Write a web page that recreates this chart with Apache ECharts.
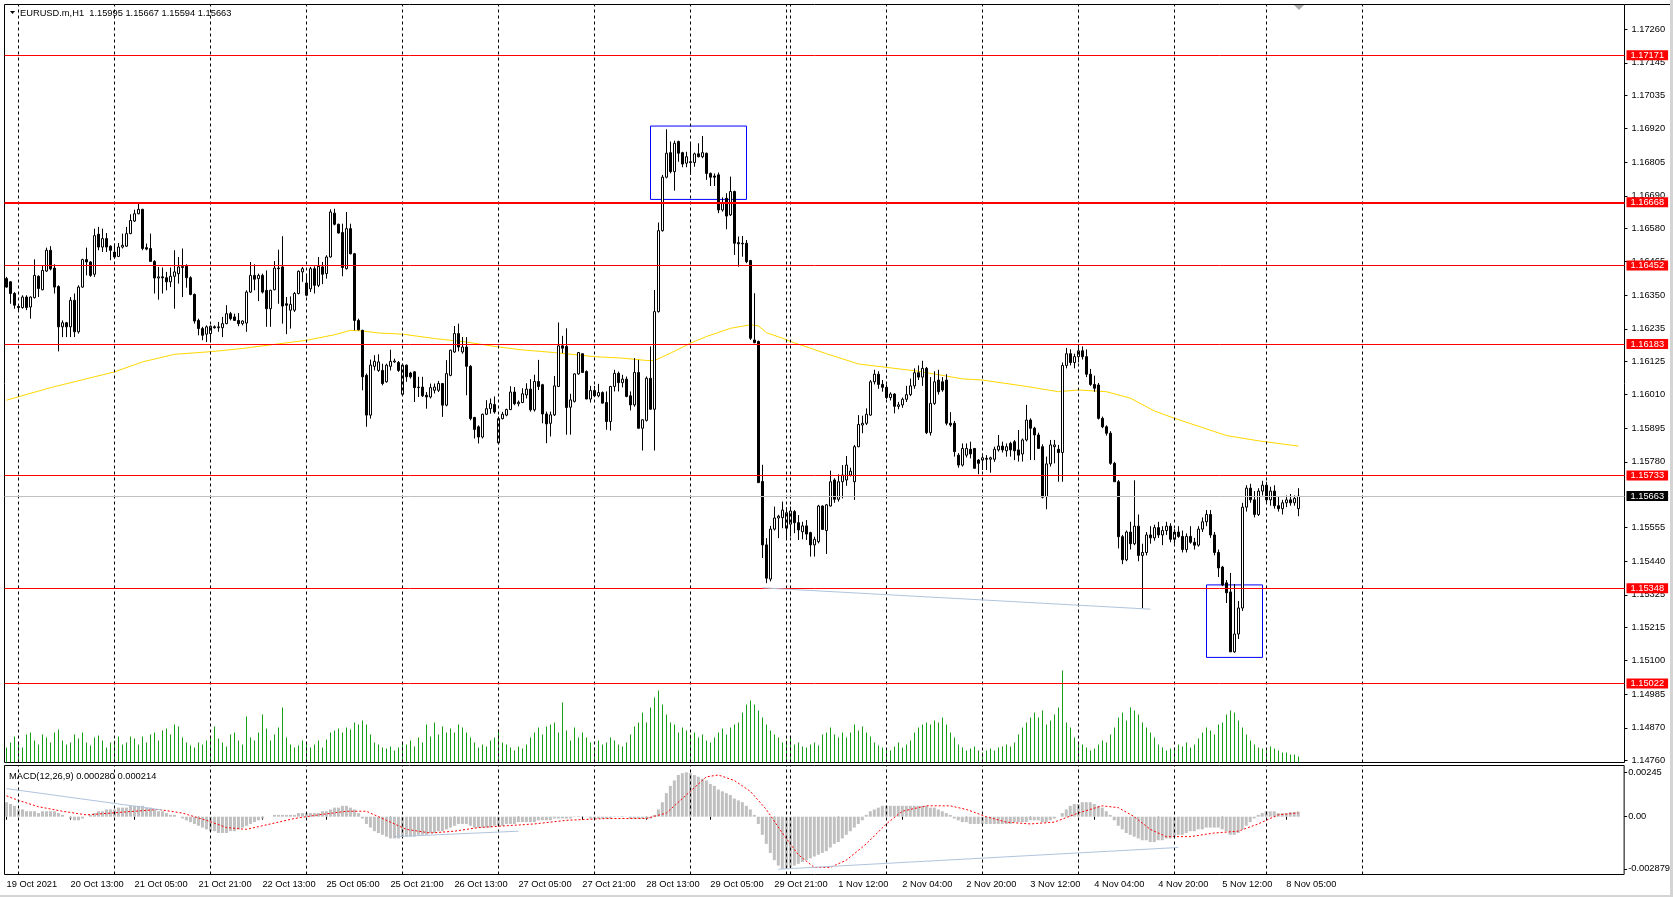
<!DOCTYPE html>
<html><head><meta charset="utf-8">
<script src="https://cdn.jsdelivr.net/npm/echarts@6/dist/echarts.min.js"></script>
<style>html,body{margin:0;padding:0;background:#fff;}#c{width:1673px;height:897px;}</style>
</head><body><div id="c"></div>
<script>
// ---------------- DATA ----------------
const timeLabels = ["19 Oct 2021","20 Oct 13:00","21 Oct 05:00","21 Oct 21:00","22 Oct 13:00","25 Oct 05:00","25 Oct 21:00","26 Oct 13:00","27 Oct 05:00","27 Oct 21:00","28 Oct 13:00","29 Oct 05:00","29 Oct 21:00","1 Nov 12:00","2 Nov 04:00","2 Nov 20:00","3 Nov 12:00","4 Nov 04:00","4 Nov 20:00","5 Nov 12:00","8 Nov 05:00"];
const priceTickLabels = ["1.17260","1.17145","1.17035","1.16920","1.16805","1.16690","1.16580","1.16465","1.16350","1.16235","1.16125","1.16010","1.15895","1.15780","1.15555","1.15440","1.15325","1.15215","1.15100","1.14985","1.14870","1.14760"];
const macdTickLabels = ["0.00245","0.00","-0.002879"];
const macdTickValues = [0.00245, 0, -0.002879];
const levels = [1.17171,1.16668,1.16452,1.16183,1.15733,1.15348,1.15022];
const currentPrice = 1.15663;

const openP = [
1.16407,1.16396,1.16356,1.16312,1.16308,1.16344,1.16310,1.16342,1.16415,1.16369,
1.16433,1.16504,1.16443,1.16380,1.16242,1.16256,1.16242,1.16333,1.16225,1.16378,
1.16472,1.16464,1.16422,1.16559,1.16515,1.16544,1.16518,1.16498,1.16483,1.16515,
1.16518,1.16561,1.16604,1.16629,1.16644,1.16513,1.16510,1.16466,1.16409,1.16413,
1.16410,1.16396,1.16415,1.16424,1.16445,1.16449,1.16410,1.16353,1.16264,1.16236,
1.16217,1.16219,1.16242,1.16239,1.16239,1.16253,1.16287,1.16276,1.16264,1.16253,
1.16255,1.16361,1.16418,1.16407,1.16418,1.16367,1.16304,1.16369,1.16443,1.16447,
1.16321,1.16299,1.16299,1.16356,1.16430,1.16392,1.16372,1.16441,1.16384,1.16447,
1.16424,1.16481,1.16631,1.16593,1.16565,1.16441,1.16578,1.16492,1.16264,1.16230,
1.16076,1.15940,1.16107,1.16093,1.16093,1.16054,1.16107,1.16122,1.16120,1.16011,
1.16111,1.16084,1.16088,1.16034,1.16036,1.16008,1.16002,1.16025,1.16025,1.16048,
1.15974,1.16076,1.16156,1.16219,1.16156,1.16173,1.16107,1.15932,1.15900,1.15865,
1.15943,1.15962,1.15976,1.15845,1.15928,1.15940,1.15959,1.16019,1.15979,1.15983,
1.16009,1.16029,1.15958,1.16055,1.16044,1.15944,1.15912,1.15941,1.16038,1.16177,
1.16175,1.15967,1.15987,1.16081,1.16150,1.16089,1.15995,1.16024,1.16006,1.16017,
1.15983,1.15918,1.16038,1.16083,1.16051,1.16063,1.16006,1.15975,1.16086,1.15895,
1.15922,1.16066,1.15960,1.16294,1.16571,1.16754,1.16838,1.16773,1.16876,1.16838,
1.16802,1.16807,1.16804,1.16834,1.16824,1.16836,1.16767,1.16758,1.16762,1.16642,
1.16682,1.16625,1.16705,1.16530,1.16528,1.16528,1.16469,1.16197,1.16192,1.15713,
1.15496,1.15379,1.15550,1.15588,1.15589,1.15553,1.15567,1.15610,1.15572,1.15541,
1.15561,1.15538,1.15496,1.15507,1.15629,1.15545,1.15629,1.15718,1.15652,1.15712,
1.15718,1.15735,1.15712,1.15832,1.15906,1.15912,1.15940,1.16054,1.16080,1.16045,
1.16035,1.16000,1.16012,1.15970,1.15975,1.15994,1.16010,1.16040,1.16085,1.16070,
1.16100,1.15880,1.15980,1.16060,1.16054,1.16060,1.15912,1.15912,1.15803,1.15769,
1.15803,1.15823,1.15826,1.15786,1.15786,1.15792,1.15789,1.15789,1.15821,1.15834,
1.15818,1.15843,1.15849,1.15821,1.15807,1.15855,1.15923,1.15895,1.15872,1.15832,
1.15661,1.15773,1.15832,1.15823,1.15812,1.16110,1.16150,1.16120,1.16140,1.16160,
1.16140,1.16080,1.16045,1.16043,1.15929,1.15900,1.15878,1.15775,1.15712,1.15524,
1.15445,1.15540,1.15500,1.15560,1.15460,1.15470,1.15530,1.15520,1.15555,1.15530,
1.15545,1.15560,1.15515,1.15540,1.15525,1.15480,1.15525,1.15505,1.15495,1.15550,
1.15575,1.15600,1.15530,1.15470,1.15420,1.15366,1.15335,1.15130,1.15191,1.15280,
1.15625,1.15690,1.15650,1.15600,1.15680,1.15700,1.15650,1.15680,1.15630,1.15620,
1.15640,1.15650,1.15640,1.15620];

const highP = [
1.16413,1.16399,1.16361,1.16316,1.16350,1.16350,1.16346,1.16473,1.16418,1.16453,
1.16513,1.16518,1.16456,1.16384,1.16264,1.16259,1.16344,1.16356,1.16384,1.16475,
1.16513,1.16467,1.16578,1.16584,1.16578,1.16563,1.16521,1.16527,1.16529,1.16561,
1.16584,1.16627,1.16643,1.16663,1.16646,1.16527,1.16561,1.16470,1.16447,1.16445,
1.16430,1.16445,1.16504,1.16481,1.16510,1.16456,1.16415,1.16356,1.16270,1.16242,
1.16247,1.16247,1.16247,1.16259,1.16276,1.16316,1.16293,1.16287,1.16289,1.16264,
1.16367,1.16464,1.16456,1.16424,1.16424,1.16435,1.16369,1.16467,1.16506,1.16552,
1.16344,1.16346,1.16361,1.16435,1.16447,1.16418,1.16447,1.16449,1.16481,1.16464,
1.16487,1.16644,1.16646,1.16595,1.16595,1.16635,1.16595,1.16495,1.16270,1.16232,
1.16082,1.16130,1.16145,1.16148,1.16116,1.16116,1.16164,1.16133,1.16125,1.16116,
1.16113,1.16088,1.16091,1.16071,1.16071,1.16019,1.16048,1.16048,1.16057,1.16050,
1.16128,1.16164,1.16245,1.16253,1.16207,1.16207,1.16111,1.15934,1.15905,1.15945,
1.15991,1.15997,1.16004,1.15935,1.15951,1.15962,1.16039,1.16036,1.15990,1.16032,
1.16049,1.16063,1.16078,1.16129,1.16047,1.15952,1.15952,1.16074,1.16257,1.16211,
1.16237,1.16013,1.16083,1.16156,1.16152,1.16093,1.16040,1.16040,1.16047,1.16021,
1.16021,1.16040,1.16095,1.16089,1.16078,1.16072,1.16021,1.16135,1.16129,1.15926,
1.16072,1.16175,1.16368,1.16599,1.16762,1.16918,1.16876,1.16879,1.16879,1.16841,
1.16841,1.16870,1.16838,1.16870,1.16895,1.16838,1.16770,1.16767,1.16770,1.16685,
1.16699,1.16756,1.16708,1.16551,1.16553,1.16539,1.16471,1.16357,1.16195,1.15770,
1.15519,1.15561,1.15627,1.15599,1.15644,1.15625,1.15627,1.15615,1.15598,1.15575,
1.15581,1.15541,1.15524,1.15633,1.15631,1.15636,1.15750,1.15724,1.15737,1.15769,
1.15800,1.15760,1.15838,1.15940,1.15938,1.15963,1.16060,1.16095,1.16090,1.16060,
1.16045,1.16018,1.16015,1.15985,1.16000,1.16040,1.16065,1.16100,1.16110,1.16126,
1.16105,1.16070,1.16090,1.16095,1.16070,1.16080,1.15950,1.15920,1.15810,1.15843,
1.15843,1.15849,1.15826,1.15790,1.15809,1.15803,1.15798,1.15832,1.15872,1.15849,
1.15843,1.15849,1.15855,1.15889,1.15860,1.15975,1.15929,1.15900,1.15880,1.15840,
1.15798,1.15855,1.15855,1.15838,1.16120,1.16170,1.16165,1.16150,1.16180,1.16175,
1.16165,1.16098,1.16075,1.16050,1.15935,1.15905,1.15885,1.15780,1.15718,1.15530,
1.15545,1.15575,1.15717,1.15600,1.15500,1.15540,1.15560,1.15565,1.15575,1.15560,
1.15575,1.15570,1.15550,1.15560,1.15545,1.15535,1.15560,1.15520,1.15560,1.15590,
1.15615,1.15615,1.15540,1.15480,1.15424,1.15376,1.15400,1.15362,1.15304,1.15640,
1.15700,1.15705,1.15680,1.15690,1.15715,1.15712,1.15695,1.15700,1.15660,1.15650,
1.15665,1.15670,1.15665,1.15690];

const lowP = [
1.16376,1.16321,1.16304,1.16299,1.16304,1.16299,1.16270,1.16339,1.16344,1.16367,
1.16430,1.16435,1.16356,1.16158,1.16207,1.16207,1.16207,1.16207,1.16219,1.16376,
1.16418,1.16413,1.16413,1.16504,1.16498,1.16498,1.16470,1.16475,1.16481,1.16510,
1.16515,1.16559,1.16601,1.16627,1.16504,1.16504,1.16466,1.16356,1.16335,1.16356,
1.16367,1.16378,1.16304,1.16390,1.16344,1.16376,1.16350,1.16253,1.16213,1.16196,
1.16190,1.16190,1.16236,1.16225,1.16207,1.16251,1.16264,1.16262,1.16244,1.16247,
1.16225,1.16358,1.16367,1.16330,1.16356,1.16242,1.16242,1.16367,1.16321,1.16253,
1.16217,1.16236,1.16293,1.16353,1.16396,1.16346,1.16361,1.16356,1.16378,1.16388,
1.16407,1.16479,1.16589,1.16561,1.16415,1.16438,1.16490,1.16230,1.16230,1.16025,
1.15900,1.15928,1.16093,1.16088,1.16042,1.16051,1.16093,1.16119,1.16088,1.16008,
1.16054,1.16065,1.15985,1.16002,1.16002,1.15962,1.15997,1.16014,1.16019,1.15934,
1.15970,1.16073,1.16153,1.16158,1.16150,1.16008,1.15922,1.15860,1.15843,1.15860,
1.15940,1.15945,1.15945,1.15840,1.15925,1.15936,1.15957,1.15974,1.15970,1.15981,
1.15997,1.15952,1.15952,1.16026,1.15912,1.15844,1.15867,1.15937,1.16036,1.16152,
1.15873,1.15873,1.15983,1.16078,1.16086,1.15995,1.15983,1.16001,1.16001,1.15981,
1.15890,1.15887,1.16021,1.16021,1.16035,1.16001,1.15956,1.15969,1.15895,1.15819,
1.15918,1.15960,1.15819,1.16291,1.16568,1.16750,1.16767,1.16708,1.16807,1.16788,
1.16788,1.16762,1.16790,1.16822,1.16819,1.16745,1.16724,1.16724,1.16631,1.16636,
1.16576,1.16621,1.16488,1.16448,1.16482,1.16460,1.16197,1.16186,1.15709,1.15451,
1.15365,1.15371,1.15545,1.15519,1.15553,1.15515,1.15524,1.15536,1.15513,1.15515,
1.15513,1.15456,1.15456,1.15501,1.15547,1.15465,1.15627,1.15640,1.15644,1.15655,
1.15698,1.15730,1.15650,1.15830,1.15878,1.15906,1.15938,1.16045,1.16030,1.16020,
1.15995,1.15990,1.15946,1.15960,1.15965,1.15985,1.16005,1.16030,1.16060,1.16040,
1.15875,1.15870,1.15975,1.16010,1.16020,1.15905,1.15900,1.15798,1.15760,1.15764,
1.15795,1.15792,1.15758,1.15738,1.15752,1.15752,1.15743,1.15780,1.15815,1.15812,
1.15798,1.15798,1.15786,1.15781,1.15781,1.15850,1.15786,1.15786,1.15826,1.15655,
1.15618,1.15764,1.15775,1.15712,1.15712,1.16100,1.16110,1.16100,1.16120,1.16130,
1.16070,1.16040,1.16020,1.15925,1.15895,1.15870,1.15770,1.15712,1.15484,1.15430,
1.15440,1.15480,1.15495,1.15440,1.15279,1.15460,1.15500,1.15510,1.15520,1.15495,
1.15530,1.15505,1.15500,1.15520,1.15470,1.15470,1.15500,1.15480,1.15490,1.15540,
1.15560,1.15520,1.15460,1.15386,1.15355,1.15297,1.15130,1.15127,1.15174,1.15270,
1.15610,1.15640,1.15590,1.15595,1.15665,1.15640,1.15630,1.15620,1.15610,1.15600,
1.15625,1.15630,1.15630,1.15594];

const closeP = [
1.16378,1.16356,1.16316,1.16308,1.16344,1.16308,1.16344,1.16418,1.16373,1.16435,
1.16504,1.16440,1.16378,1.16242,1.16256,1.16242,1.16333,1.16225,1.16378,1.16472,
1.16464,1.16418,1.16554,1.16515,1.16544,1.16515,1.16504,1.16481,1.16515,1.16521,
1.16561,1.16606,1.16629,1.16644,1.16510,1.16508,1.16466,1.16409,1.16413,1.16410,
1.16396,1.16415,1.16430,1.16447,1.16449,1.16410,1.16353,1.16262,1.16236,1.16213,
1.16242,1.16244,1.16239,1.16242,1.16253,1.16287,1.16270,1.16264,1.16253,1.16262,
1.16361,1.16418,1.16405,1.16418,1.16361,1.16304,1.16367,1.16443,1.16441,1.16313,
1.16316,1.16319,1.16356,1.16432,1.16441,1.16350,1.16441,1.16384,1.16449,1.16422,
1.16481,1.16635,1.16593,1.16563,1.16445,1.16578,1.16492,1.16264,1.16232,1.16071,
1.15940,1.16111,1.16124,1.16122,1.16048,1.16111,1.16124,1.16125,1.16093,1.16111,
1.16071,1.16071,1.16034,1.16036,1.16006,1.16002,1.16034,1.16036,1.16048,1.15974,
1.16082,1.16162,1.16219,1.16173,1.16173,1.16107,1.15928,1.15891,1.15865,1.15943,
1.15962,1.15979,1.15951,1.15928,1.15943,1.15959,1.16019,1.15979,1.15984,1.16013,
1.16029,1.15958,1.16055,1.16038,1.15944,1.15910,1.15941,1.16040,1.16177,1.16169,
1.15966,1.15992,1.16081,1.16154,1.16086,1.15995,1.16024,1.16006,1.16017,1.15981,
1.15918,1.16038,1.16083,1.16051,1.16063,1.16004,1.15975,1.16086,1.15895,1.15924,
1.16066,1.15960,1.16294,1.16571,1.16754,1.16836,1.16773,1.16870,1.16836,1.16799,
1.16824,1.16804,1.16834,1.16824,1.16838,1.16767,1.16754,1.16754,1.16642,1.16667,
1.16621,1.16705,1.16528,1.16526,1.16526,1.16465,1.16203,1.16188,1.15709,1.15496,
1.15382,1.15550,1.15588,1.15594,1.15615,1.15606,1.15612,1.15572,1.15547,1.15561,
1.15533,1.15496,1.15515,1.15629,1.15549,1.15633,1.15712,1.15652,1.15712,1.15735,
1.15769,1.15748,1.15832,1.15908,1.15912,1.15943,1.16054,1.16080,1.16045,1.16035,
1.16000,1.16012,1.15970,1.15975,1.15994,1.16010,1.16040,1.16085,1.16070,1.16100,
1.15880,1.15980,1.16054,1.16020,1.16026,1.15912,1.15906,1.15815,1.15769,1.15826,
1.15826,1.15807,1.15758,1.15775,1.15794,1.15789,1.15794,1.15823,1.15834,1.15821,
1.15832,1.15821,1.15818,1.15803,1.15855,1.15923,1.15895,1.15872,1.15826,1.15659,
1.15773,1.15838,1.15838,1.15812,1.16110,1.16150,1.16120,1.16140,1.16160,1.16140,
1.16080,1.16045,1.16032,1.15929,1.15900,1.15878,1.15775,1.15712,1.15524,1.15445,
1.15540,1.15500,1.15560,1.15460,1.15470,1.15530,1.15520,1.15555,1.15530,1.15545,
1.15560,1.15515,1.15540,1.15525,1.15480,1.15525,1.15505,1.15495,1.15550,1.15575,
1.15600,1.15530,1.15470,1.15417,1.15359,1.15332,1.15130,1.15191,1.15280,1.15625,
1.15690,1.15650,1.15600,1.15680,1.15700,1.15650,1.15680,1.15630,1.15620,1.15640,
1.15650,1.15640,1.15655,1.15663];

const volumes = [
1500,2000,2600,2000,1500,2800,3000,2200,1800,2800,
2500,2000,3000,3300,2200,1800,2000,2800,2400,3000,
2000,1700,2500,2700,2200,1500,2000,2200,2600,1800,
2000,2600,2400,1800,2600,2000,2800,3000,2200,3200,
3400,2800,3800,3600,2500,2000,1700,1500,2000,1800,
2200,2500,3600,2400,2000,1600,2800,3000,2200,1800,
4600,2500,2200,3000,4800,3400,2200,2800,3500,5500,
2500,1800,1500,1700,2200,2000,1500,1800,2200,1500,
2300,3000,3200,3400,3000,3500,3300,4000,3800,4200,
3800,2800,2000,1800,1500,1400,1600,1200,1500,2000,
1800,2200,1600,2500,2000,3800,2600,4000,2800,3600,
3000,3400,3000,3800,3500,3000,2500,2000,1500,1800,
1600,2200,2500,3300,2000,1800,1500,1200,1600,1400,
1800,2500,3000,3500,2800,3600,3800,4000,3000,6000,
3200,2200,3500,2500,3000,2500,2000,1500,2200,1800,
2000,2500,2200,1800,1600,2000,2800,3600,4000,5000,
4000,5500,6500,7200,5800,4800,4000,3800,3000,3500,
3200,2800,3000,2500,2800,2200,2000,2500,3000,3400,
2800,3500,3800,4000,5000,5800,6200,5800,5200,4500,
3800,3200,2800,2500,2000,2200,2500,1800,2000,1600,
1500,1800,2000,1700,2800,3000,3500,2800,2500,3000,
2500,3000,3800,3200,3600,3000,2600,2000,1700,1500,
1400,1200,1600,2000,1500,1800,2200,3000,3500,3800,
4000,3800,4200,4000,4500,3800,3000,2500,1800,1500,
1200,1400,1600,1200,1000,1200,1400,1200,1500,1600,
1800,1600,2000,2800,3500,4000,4500,5000,4500,5200,
3800,4200,4800,5500,9200,4000,3500,2500,2000,1800,
1500,1200,1400,1800,2200,2000,2800,3500,4500,5000,
4200,5500,5200,4800,4000,3500,3000,2500,1800,1500,
1200,1400,1500,1800,1600,2000,1500,1800,2400,3000,
3500,3200,2800,3800,4000,4800,5200,5000,4200,3500,
2800,2200,1800,1500,1400,1200,1600,1400,1200,1000,
1000,800,800,600];

const macdHist = [
0.0008,0.0007,0.0006,0.0004,0.0004,0.0003,0.0003,0.0003,0.0002,0.0003,
0.0003,0.0003,0.0003,0.0002,0.0001,0,-0.0001,-0.0002,-0.0002,-0.0001,
0,0.0001,0.0002,0.0003,0.0003,0.0004,0.0004,0.0004,0.0005,0.0005,
0.0005,0.0006,0.0006,0.0006,0.0006,0.0005,0.0005,0.0004,0.0003,0.0003,
0.0002,0.0001,0.0001,0,-0.0001,-0.0002,-0.0003,-0.0004,-0.0005,-0.0006,
-0.0007,-0.0008,-0.0008,-0.0009,-0.0009,-0.0009,-0.0008,-0.0008,-0.0007,-0.0006,
-0.0005,-0.0004,-0.0003,-0.0002,-0.0001,0,0,0.0001,0.0001,0.0001,
0.0001,0.0001,0.0001,0.0002,0.0002,0.0002,0.0002,0.0002,0.0002,0.0003,
0.0003,0.0004,0.0005,0.0005,0.0006,0.0006,0.0005,0.0004,0.0002,-0.0001,
-0.0004,-0.0006,-0.0008,-0.0009,-0.0010,-0.0011,-0.0012,-0.0012,-0.0012,-0.0011,
-0.0011,-0.0011,-0.0011,-0.0010,-0.0010,-0.0010,-0.0009,-0.0009,-0.0008,-0.0008,
-0.0007,-0.0006,-0.0005,-0.0004,-0.0004,-0.0004,-0.0005,-0.0006,-0.0006,-0.0006,
-0.0006,-0.0006,-0.0005,-0.0005,-0.0005,-0.0004,-0.0004,-0.0004,-0.0003,-0.0003,
-0.0003,-0.0003,-0.0003,-0.0002,-0.0002,-0.0002,-0.0002,-0.0001,-0.0001,-0.0001,
-0.0001,-0.0001,0.00002,0.00003,0.00002,0.00001,-0.0001,-0.0001,-0.0001,-0.0001,
-0.0001,-0.0001,0.00002,0.00002,0.00003,0.00001,-0.0001,-0.0001,-0.0001,-0.0001,
-0.0001,-0.0001,0.0001,0.0004,0.0008,0.0013,0.0017,0.0020,0.0023,0.0024,
0.00245,0.0024,0.0023,0.0022,0.0021,0.0020,0.0018,0.0017,0.0015,0.0014,
0.0013,0.0012,0.0010,0.0009,0.0008,0.0006,0.0004,0.0001,-0.0004,-0.0010,
-0.0015,-0.0020,-0.0024,-0.0027,-0.002879,-0.00287,-0.0028,-0.0027,-0.0026,-0.0025,
-0.0024,-0.0023,-0.0022,-0.0021,-0.0020,-0.0019,-0.0017,-0.0015,-0.0014,-0.0012,
-0.0010,-0.0008,-0.0006,-0.0004,-0.0002,0.0001,0.0003,0.0004,0.0005,0.0006,
0.0006,0.0006,0.0006,0.0006,0.0006,0.0006,0.0006,0.0006,0.0006,0.0006,
0.0006,0.0005,0.0005,0.0004,0.0003,0.0002,0.0001,-0.0001,-0.0002,-0.0003,
-0.0003,-0.0004,-0.0004,-0.0004,-0.0004,-0.0004,-0.0004,-0.0004,-0.0004,-0.0004,
-0.0004,-0.0004,-0.0003,-0.0003,-0.0003,-0.0003,-0.0002,-0.0002,-0.0002,-0.0003,
-0.0003,-0.0002,-0.0001,0,0.0002,0.0004,0.0006,0.0007,0.0007,0.0008,
0.0008,0.0008,0.0007,0.0006,0.0005,0.0003,0.0001,-0.0002,-0.0005,-0.0007,
-0.0009,-0.0010,-0.0011,-0.0012,-0.0013,-0.0013,-0.0014,-0.0014,-0.0013,-0.0013,
-0.0012,-0.0012,-0.0011,-0.0010,-0.0010,-0.0009,-0.0008,-0.0008,-0.0007,-0.0007,
-0.0006,-0.0006,-0.0006,-0.0006,-0.0007,-0.0008,-0.0010,-0.0010,-0.0009,-0.0007,
-0.0005,-0.0003,-0.0001,0.0001,0.0002,0.0003,0.0003,0.0003,0.0002,0.0002,
0.0002,0.00025,0.00026,0.00028];

// signal line, read at selected bars: [bar index, value]
const macdSignal = [
[0,0.00115],[3,0.0009],[8,0.00055],[14,0.0003],[20,0.0001],[26,0.0002],[32,0.0003],[38,0.0004],
[44,0.0002],[50,-0.0002],[55,-0.0006],[60,-0.0007],[66,-0.0004],[72,-0.0001],[78,0.0001],[85,0.0003],
[90,0.0003],[95,-0.0002],[100,-0.0007],[106,-0.0009],[112,-0.0008],[118,-0.0006],[125,-0.0005],
[132,-0.0004],[140,-0.0002],[150,-0.0001],[160,-0.0001],[165,0.0002],[170,0.0012],[175,0.0022],
[178,0.0023],[182,0.0020],[186,0.0014],[190,0.0004],[194,-0.0009],[198,-0.0021],[202,-0.0028],
[206,-0.0028],[210,-0.0024],[215,-0.0015],[220,-0.0004],[224,0.0003],[230,0.0006],[236,0.0006],
[240,0.0004],[245,0.0],[250,-0.0003],[256,-0.0004],[262,-0.0003],[268,0.0002],[274,0.0006],
[278,0.0005],[282,0.0],[286,-0.0007],[290,-0.0011],[296,-0.0011],[302,-0.0009],[308,-0.0008],
[313,-0.0004],[318,0.0001],[323,0.000214]];

// moving average (yellow), read at selected bars: [bar index, price]
const maLine = [
[0,1.15991],[11,1.16034],[22,1.16071],[27,1.16088],[34,1.16122],[42,1.16148],[51,1.16157],[59,1.16168],
[67,1.16182],[75,1.16196],[82,1.16215],[86,1.16230],[89,1.16228],[93,1.16221],[99,1.16217],[107,1.16202],
[115,1.16190],[122,1.16175],[129,1.16163],[137,1.16154],[147,1.16140],[154,1.16135],[160,1.16127],
[162,1.16127],[166,1.16152],[171,1.16186],[175,1.16209],[181,1.16237],[186,1.16249],[188,1.16245],
[190,1.16222],[194,1.16203],[196,1.16192],[205,1.16150],[213,1.16115],[228,1.16090],[239,1.16064],
[244,1.16060],[255,1.16038],[263,1.16020],[268,1.16026],[275,1.16020],[281,1.15998],[287,1.15954],
[292,1.15929],[305,1.15870],[313,1.15852],[323,1.15834]];

// day separators (bar indices)
const daySeparators = [3,27,51,75,99,123,147,171,195,196,220,244,268,292,315,339];
// drawn objects
const boxes = [[161,1.16929,185,1.16678],[300,1.15359,314,1.15111]];
const priceTrend = [[189,1.15349],[286,1.15276]];
const macdTrends = [[[0,0.00155],[39,0.00037]],[[97,-0.0011],[128,-0.0008]],[[193,-0.0029],[293,-0.0017]]];

// ---------------- CHART ----------------
const F = 'Liberation Sans, Arial, sans-serif';
const FS = 9.3;
const NCAT = 405;
const cats = Array.from({length: NCAT}, (_, i) => String(i));
const candles = openP.map((o, i) => [o, closeP[i], lowP[i], highP[i]]);
const priceTickValues = priceTickLabels.map(parseFloat);
const labelInterval = (i) => i % 16 === 0 && i <= 320;

const dashed = {color: '#000', width: 1, type: [3, 3]};
const vLineData = daySeparators.map(i => ({xAxis: i, lineStyle: dashed, label: {show: false}}));

const hLineData = levels.map(v => ({
  yAxis: v,
  lineStyle: {color: '#ff0000', width: v === 1.16668 ? 2 : 1, type: 'solid'},
  label: {show: true, position: 'end', distance: 2, formatter: () => v.toFixed(5),
          color: '#fff', backgroundColor: '#ff0000', padding: [1, 4, 0, 4],
          fontFamily: F, fontSize: FS}
}));
hLineData.push({
  yAxis: currentPrice,
  lineStyle: {color: '#c0c0c0', width: 1, type: 'solid'},
  label: {show: true, position: 'end', distance: 2, formatter: () => currentPrice.toFixed(5),
          color: '#fff', backgroundColor: '#000', padding: [1, 4, 0, 4],
          fontFamily: F, fontSize: FS}
});
const trendLine = [{coord: priceTrend[0], lineStyle: {color: '#b0c4de', width: 1, type: 'solid'}, label: {show: false}},
                   {coord: priceTrend[1]}];

const macdTrendData = macdTrends.map(t => [
  {coord: t[0], lineStyle: {color: '#b0c4de', width: 1, type: 'solid'}, label: {show: false}},
  {coord: t[1]}]);

const option = {
  animation: false,
  backgroundColor: '#ffffff',
  textStyle: {fontFamily: F},
  grid: [
    {left: 4.5, top: 4.5, width: 1620, height: 758, show: true, borderColor: '#000', borderWidth: 1, backgroundColor: 'rgba(0,0,0,0)'},
    {left: 4.5, top: 662.5, width: 1620, height: 100},
    {left: 4.5, top: 765.5, width: 1620, height: 109, show: true, borderColor: '#000', borderWidth: 1, backgroundColor: 'rgba(0,0,0,0)'}
  ],
  xAxis: [
    {type: 'category', gridIndex: 0, data: cats, boundaryGap: true, axisLine: {show: false}, axisTick: {show: false}, axisLabel: {show: false}, splitLine: {show: false}},
    {type: 'category', gridIndex: 1, data: cats, boundaryGap: true, axisLine: {show: false}, axisTick: {show: false}, axisLabel: {show: false}, splitLine: {show: false}},
    {type: 'category', gridIndex: 2, data: cats, boundaryGap: true, position: 'bottom',
     axisLine: {show: false},
     axisTick: {show: true, interval: labelInterval, alignWithLabel: true, length: 3, lineStyle: {color: '#000'}},
     axisLabel: {show: true, interval: labelInterval, align: 'left', margin: 5, color: '#000', fontSize: FS, fontFamily: F,
                 formatter: (val, idx) => timeLabels[Math.round(Number(val) / 16)] || ''},
     splitLine: {show: false}}
  ],
  yAxis: [
    {type: 'value', gridIndex: 0, position: 'right', min: 1.147514, max: 1.173449, splitLine: {show: false},
     axisLine: {show: false},
     axisTick: {show: true, customValues: priceTickValues, length: 3, lineStyle: {color: '#000'}},
     axisLabel: {show: true, customValues: priceTickValues, margin: 7, color: '#000', fontSize: FS, fontFamily: F,
                 formatter: v => v.toFixed(5)}},
    {type: 'value', gridIndex: 1, min: 0, max: 10000, show: false, splitLine: {show: false}},
    {type: 'value', gridIndex: 2, position: 'right', min: -0.003190, max: 0.002825, splitLine: {show: false},
     axisLine: {show: false},
     axisTick: {show: true, customValues: macdTickValues, length: 3, lineStyle: {color: '#000'}},
     axisLabel: {show: true, customValues: macdTickValues, margin: 4, color: '#000', fontSize: FS, fontFamily: F,
                 formatter: v => macdTickLabels[macdTickValues.findIndex(t => Math.abs(t - v) < 1e-9)] || ''}}
  ],
  series: [
    {type: 'bar', name: 'Volumes', xAxisIndex: 1, yAxisIndex: 1, data: volumes, barWidth: 1, z: 1,
     itemStyle: {color: '#16a016'}, silent: true},
    {type: 'candlestick', name: 'EURUSD', xAxisIndex: 0, yAxisIndex: 0, data: candles, barWidth: 3, z: 3,
     itemStyle: {color: '#ffffff', color0: '#000000', borderColor: '#000000', borderColor0: '#000000', borderWidth: 1},
     emphasis: {disabled: true}, silent: true,
     markLine: {silent: true, symbol: ['none', 'none'], animation: false, precision: 5,
                data: vLineData.concat(hLineData).concat([trendLine])},
     markArea: {silent: true,
                itemStyle: {color: 'rgba(0,0,0,0)', borderColor: '#0000ff', borderWidth: 1},
                data: boxes.map(b => [{coord: [b[0], b[1]]}, {coord: [b[2], b[3]]}])}},
    {type: 'line', name: 'MA', xAxisIndex: 0, yAxisIndex: 0, data: maLine, showSymbol: false, symbol: 'none',
     lineStyle: {color: '#ffd700', width: 1}, z: 2, silent: true},
    {type: 'bar', name: 'MACD', xAxisIndex: 2, yAxisIndex: 2, data: macdHist, barWidth: 3, z: 2,
     itemStyle: {color: '#c0c0c0'}, silent: true,
     markLine: {silent: true, symbol: ['none', 'none'], animation: false,
                data: vLineData.map(d => ({xAxis: d.xAxis, lineStyle: dashed, label: {show: false}})).concat(macdTrendData)}},
    {type: 'line', name: 'Signal', xAxisIndex: 2, yAxisIndex: 2, data: macdSignal, showSymbol: false, symbol: 'none',
     lineStyle: {color: '#ff0000', width: 1, type: [2, 2]}, z: 3, silent: true}
  ],
  graphic: [
    {type: 'polygon', shape: {points: [[10, 11], [15, 11], [12.5, 14]]}, style: {fill: '#000'}},
    {type: 'text', x: 20, y: 13, style: {text: 'EURUSD.m,H1  1.15995 1.15667 1.15594 1.15663', fill: '#000', font: FS + 'px ' + F, textVerticalAlign: 'middle'}},
    {type: 'text', x: 9, y: 776, style: {text: 'MACD(12,26,9) 0.000280 0.000214', fill: '#000', font: FS + 'px ' + F, textVerticalAlign: 'middle'}},
    {type: 'polygon', shape: {points: [[1294, 5], [1304, 5], [1299, 10]]}, style: {fill: '#a9a9a9'}},
    {type: 'rect', shape: {x: 1670, y: 0, width: 3, height: 897}, style: {fill: '#d4d4d4'}},
    {type: 'rect', shape: {x: 0, y: 895, width: 1673, height: 2}, style: {fill: '#d4d4d4'}},
    {type: 'line', shape: {x1: 1624.5, y1: 4.5, x2: 1670, y2: 4.5}, style: {stroke: '#000', lineWidth: 1}}
  ]
};
const chart = echarts.init(document.getElementById('c'), null, {width: 1673, height: 897, renderer: 'canvas'});
chart.setOption(option);
</script>
</body></html>
